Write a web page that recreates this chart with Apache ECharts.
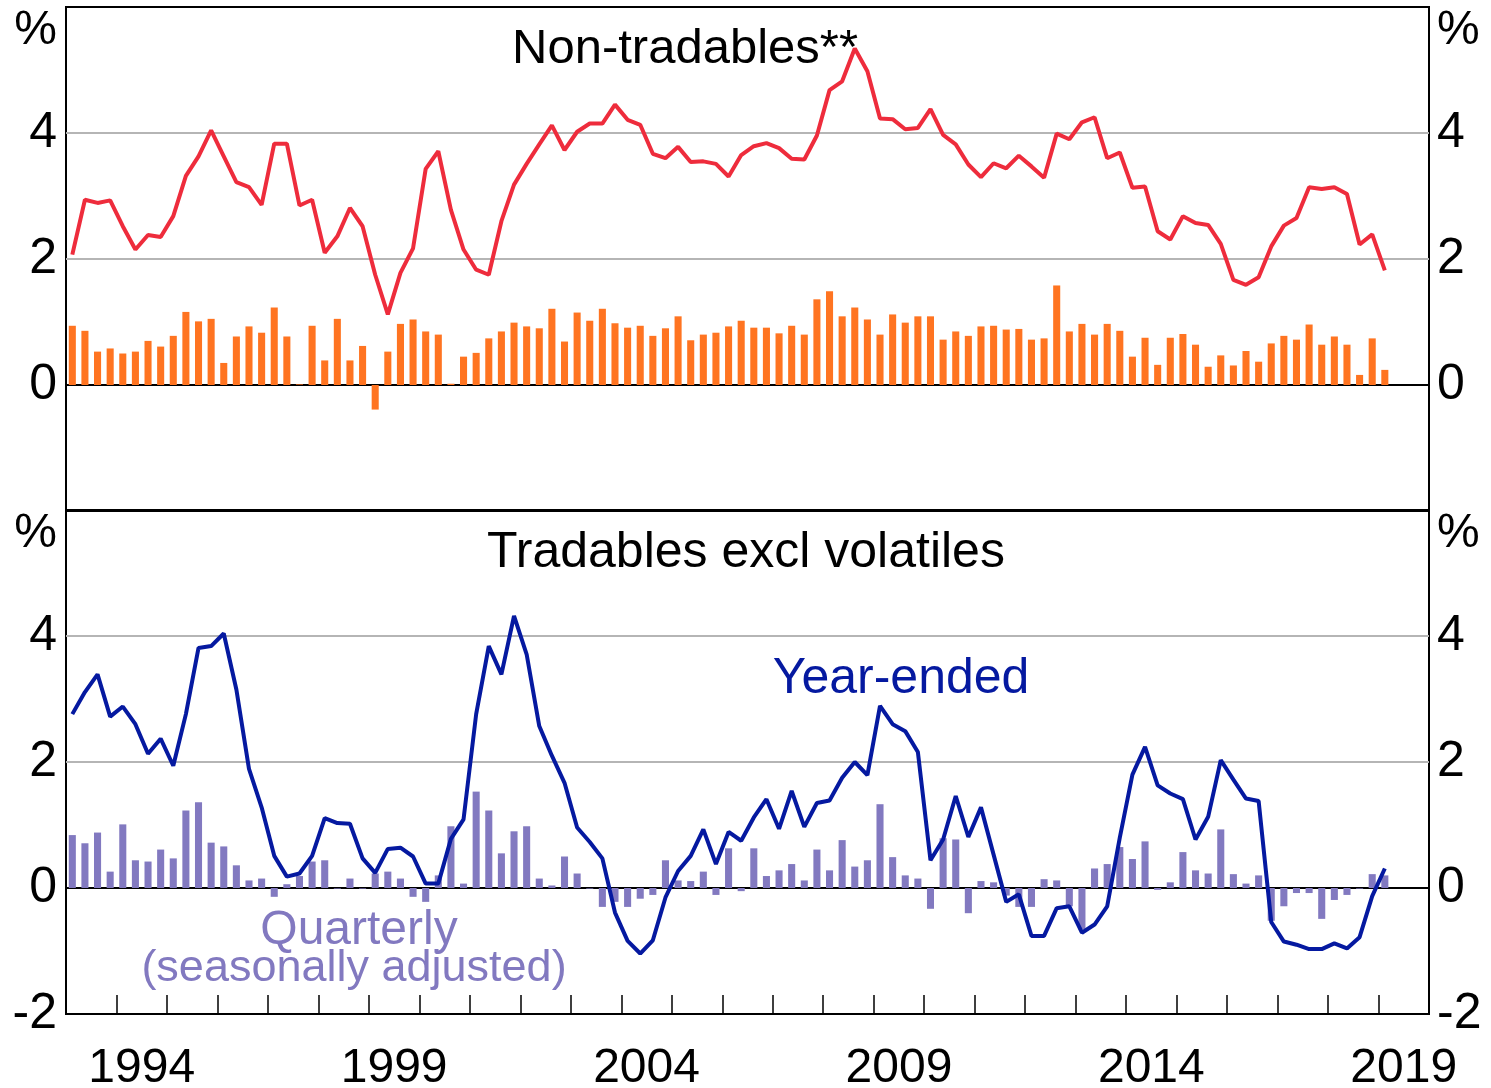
<!DOCTYPE html>
<html>
<head>
<meta charset="utf-8">
<script src="https://cdn.jsdelivr.net/npm/echarts@6/dist/echarts.min.js"></script>
<style>
html, body { margin: 0; padding: 0; background: #fff; }
#chart { width: 1491px; height: 1088px; }
</style>
</head>
<body>
<div id="chart"></div>
<script>
// years on the axis, quarterly data runs 1993Q1 - 2019Q1
const years = ['1993','1994','1995','1996','1997','1998','1999','2000','2001','2002','2003','2004','2005',
  '2006','2007','2008','2009','2010','2011','2012','2013','2014','2015','2016','2017','2018','2019'];
const labelYears = ['1994','1999','2004','2009','2014','2019'];
const yTicks = [-2, 0, 2, 4, 6];

// non-tradables**, per cent
const nonTradYearEnded = [2.07, 2.94, 2.89, 2.93, 2.52, 2.15, 2.38, 2.35, 2.68, 3.32, 3.63, 4.04, 3.63, 3.22, 3.14, 2.86,
  3.83, 3.83, 2.85, 2.94, 2.10, 2.36, 2.81, 2.52, 1.75, 1.12, 1.78, 2.17, 3.43, 3.71, 2.78, 2.15, 1.83, 1.75, 2.60, 3.18,
  3.51, 3.82, 4.12, 3.73, 4.02, 4.15, 4.15, 4.45, 4.21, 4.13, 3.67, 3.60, 3.78, 3.54, 3.55, 3.51, 3.31, 3.65, 3.79, 3.84,
  3.76, 3.59, 3.58, 3.96, 4.68, 4.82, 5.34, 4.98, 4.23, 4.22, 4.06, 4.08, 4.38, 3.97, 3.82,
  3.50, 3.30, 3.52, 3.44, 3.64, 3.47, 3.29, 3.99, 3.90, 4.17, 4.25, 3.60, 3.69, 3.13, 3.15, 2.44, 2.31, 2.68, 2.57, 2.54,
  2.24, 1.67, 1.59, 1.71, 2.20, 2.53, 2.65, 3.14, 3.11, 3.14, 3.03, 2.23, 2.39, 1.82];
const nonTradQuarterly = [0.94, 0.86, 0.53, 0.58, 0.50, 0.53, 0.70, 0.61, 0.78, 1.16, 1.01, 1.05, 0.35, 0.77, 0.93, 0.83,
  1.23, 0.77, 0.01, 0.94, 0.39, 1.05, 0.39, 0.62, -0.39, 0.53, 0.97, 1.04, 0.85, 0.80, 0.02, 0.45, 0.51, 0.74, 0.85, 0.99,
  0.93, 0.90, 1.21, 0.69, 1.15, 1.02, 1.21, 0.98, 0.91, 0.94, 0.78, 0.90, 1.09, 0.71, 0.80, 0.83, 0.93, 1.02, 0.91, 0.91,
  0.82, 0.94, 0.80, 1.36, 1.49, 1.09, 1.23, 1.04, 0.80, 1.12, 0.99, 1.09, 1.09, 0.72, 0.85,
  0.78, 0.93, 0.94, 0.88, 0.89, 0.72, 0.74, 1.58, 0.85, 0.97, 0.80, 0.97, 0.86, 0.45, 0.75, 0.32, 0.75, 0.81, 0.64, 0.29,
  0.47, 0.31, 0.54, 0.37, 0.66, 0.78, 0.72, 0.96, 0.64, 0.77, 0.64, 0.16, 0.74, 0.24];

// tradables excl volatiles, per cent
const tradYearEnded = [2.76, 3.11, 3.39, 2.72, 2.88, 2.60, 2.13, 2.37, 1.94, 2.76, 3.81, 3.84, 4.04, 3.15, 1.89, 1.28,
  0.51, 0.18, 0.23, 0.51, 1.11, 1.03, 1.02, 0.47, 0.24, 0.62, 0.64, 0.50, 0.07, 0.07, 0.78, 1.09, 2.76, 3.84, 3.39, 4.32,
  3.71, 2.57, 2.10, 1.67, 0.96, 0.73, 0.47, -0.39, -0.84, -1.04, -0.83, -0.15, 0.27, 0.51, 0.93, 0.38, 0.89, 0.75, 1.12,
  1.41, 0.94, 1.54, 0.97, 1.35, 1.39, 1.75, 2.00, 1.79, 2.89, 2.60, 2.49, 2.16, 0.44, 0.77, 1.46,
  0.81, 1.28, 0.53, -0.22, -0.10, -0.76, -0.76, -0.32, -0.29, -0.71, -0.58, -0.29, 0.80, 1.80, 2.24, 1.63, 1.50, 1.41,
  0.77, 1.13, 2.03, 1.72, 1.42, 1.38, -0.54, -0.85, -0.90, -0.97, -0.97, -0.88, -0.96, -0.78, -0.13, 0.31];
const tradQuarterly = [0.84, 0.71, 0.88, 0.26, 1.01, 0.44, 0.42, 0.61, 0.47, 1.23, 1.36, 0.72, 0.66, 0.36, 0.12, 0.15,
  -0.14, 0.06, 0.19, 0.42, 0.44, -0.01, 0.15, -0.01, 0.23, 0.26, 0.15, -0.14, -0.22, 0.20, 0.98, 0.07, 1.53, 1.23, 0.55, 0.90,
  0.98, 0.15, 0.04, 0.50, 0.23, -0.01, -0.30, -0.22, -0.30, -0.17, -0.11, 0.44, 0.12, 0.11, 0.26, -0.11, 0.63, -0.05, 0.63,
  0.19, 0.28, 0.38, 0.12, 0.61, 0.28, 0.76, 0.34, 0.44, 1.33, 0.49, 0.20, 0.15, -0.33, 0.79, 0.77,
  -0.40, 0.11, 0.09, -0.12, -0.30, -0.30, 0.14, 0.12, -0.29, -0.66, 0.31, 0.38, 0.65, 0.46, 0.74, -0.03, 0.09, 0.57, 0.28,
  0.23, 0.93, 0.22, 0.07, 0.20, -0.52, -0.29, -0.08, -0.08, -0.49, -0.19, -0.11, -0.01, 0.22, 0.20];

const quarters = [];
for (const y of years) {
  for (let q = 1; q <= 4; q++) quarters.push(y + 'Q' + q);
}

const FONT = "'Liberation Sans', Arial, sans-serif";
const RED = '#EE2C3C', ORANGE = '#FF7421', BLUE = '#0519A0', PURPLE = '#8279C0';

function yLabels(side, hideMin) {
  return {
    fontSize: 50, fontFamily: FONT, color: '#000', margin: side === 'left' ? 9 : 8,
    formatter: function (v) {
      if (v === yTicks[yTicks.length - 1]) return '{p|%}';
      if (hideMin && v === yTicks[0]) return '';
      return String(v);
    },
    rich: { p: { fontSize: 48, fontFamily: FONT, color: '#000', padding: [48, 0, 0, 0] } }
  };
}

function yAxis(grid, side, hideMin) {
  return {
    type: 'value', gridIndex: grid, position: side,
    min: yTicks[0], max: yTicks[yTicks.length - 1], interval: 2,
    axisLine: { show: false }, axisTick: { show: false },
    splitLine: { show: side === 'left', showMinLine: false, showMaxLine: false,
      lineStyle: { color: '#B5B5B5', width: 2 } },
    axisLabel: yLabels(side, hideMin)
  };
}

function dataAxis(grid) {
  return {
    type: 'category', gridIndex: grid, data: quarters, boundaryGap: true,
    axisLine: { onZero: true, lineStyle: { color: '#000', width: 2 } },
    axisTick: { show: false }, axisLabel: { show: false }
  };
}

let myChart = echarts.init(document.getElementById('chart'));
let option = {
  animation: false,
  backgroundColor: '#fff',
  grid: [
    { left: 66, right: 62, top: 7, height: 504, show: true, borderColor: '#000', borderWidth: 2,
      outerBoundsMode: 'none', containLabel: false },
    { left: 66, right: 62, top: 510, height: 504, show: true, borderColor: '#000', borderWidth: 2,
      outerBoundsMode: 'none', containLabel: false }
  ],
  xAxis: [
    dataAxis(0),
    dataAxis(1),
    {
      type: 'category', gridIndex: 1, data: years, position: 'bottom', boundaryGap: true,
      axisLine: { onZero: false, lineStyle: { color: '#000', width: 2 } },
      axisTick: { show: true, inside: true, length: 19, interval: 0, lineStyle: { color: '#000', width: 1.5 } },
      axisLabel: {
        interval: function (i, v) { return labelYears.indexOf(v) >= 0; },
        fontSize: 48, fontFamily: FONT, color: '#000', margin: 31
      }
    }
  ],
  yAxis: [
    yAxis(0, 'left', true), yAxis(0, 'right', true),
    yAxis(1, 'left', false), yAxis(1, 'right', false)
  ],
  series: [
    { type: 'bar', xAxisIndex: 0, yAxisIndex: 0, data: nonTradQuarterly, barWidth: '56%',
      itemStyle: { color: ORANGE } },
    { type: 'line', xAxisIndex: 0, yAxisIndex: 0, data: nonTradYearEnded, symbol: 'none',
      lineStyle: { color: RED, width: 4 }, z: 3 },
    { type: 'bar', xAxisIndex: 1, yAxisIndex: 2, data: tradQuarterly, barWidth: '56%',
      itemStyle: { color: PURPLE } },
    { type: 'line', xAxisIndex: 1, yAxisIndex: 2, data: tradYearEnded, symbol: 'none',
      lineStyle: { color: BLUE, width: 4 }, z: 3 }
  ],
  graphic: [
    { type: 'text', x: 685, y: 49, style: { text: 'Non-tradables**', fontSize: 49, fontFamily: FONT, fill: '#000', align: 'center', verticalAlign: 'middle' } },
    { type: 'text', x: 746, y: 553, style: { text: 'Tradables excl volatiles', fontSize: 50, fontFamily: FONT, fill: '#000', align: 'center', verticalAlign: 'middle' } },
    { type: 'text', x: 901, y: 679, style: { text: 'Year-ended', fontSize: 50, fontFamily: FONT, fill: BLUE, align: 'center', verticalAlign: 'middle' } },
    { type: 'text', x: 359, y: 931, style: { text: 'Quarterly', fontSize: 48, fontFamily: FONT, fill: PURPLE, align: 'center', verticalAlign: 'middle' } },
    { type: 'text', x: 354, y: 969, style: { text: '(seasonally adjusted)', fontSize: 45, fontFamily: FONT, fill: PURPLE, align: 'center', verticalAlign: 'middle' } }
  ]
};
myChart.setOption(option);

window.addEventListener('resize', function () {
  myChart.resize();
});
</script>
</body>
</html>
